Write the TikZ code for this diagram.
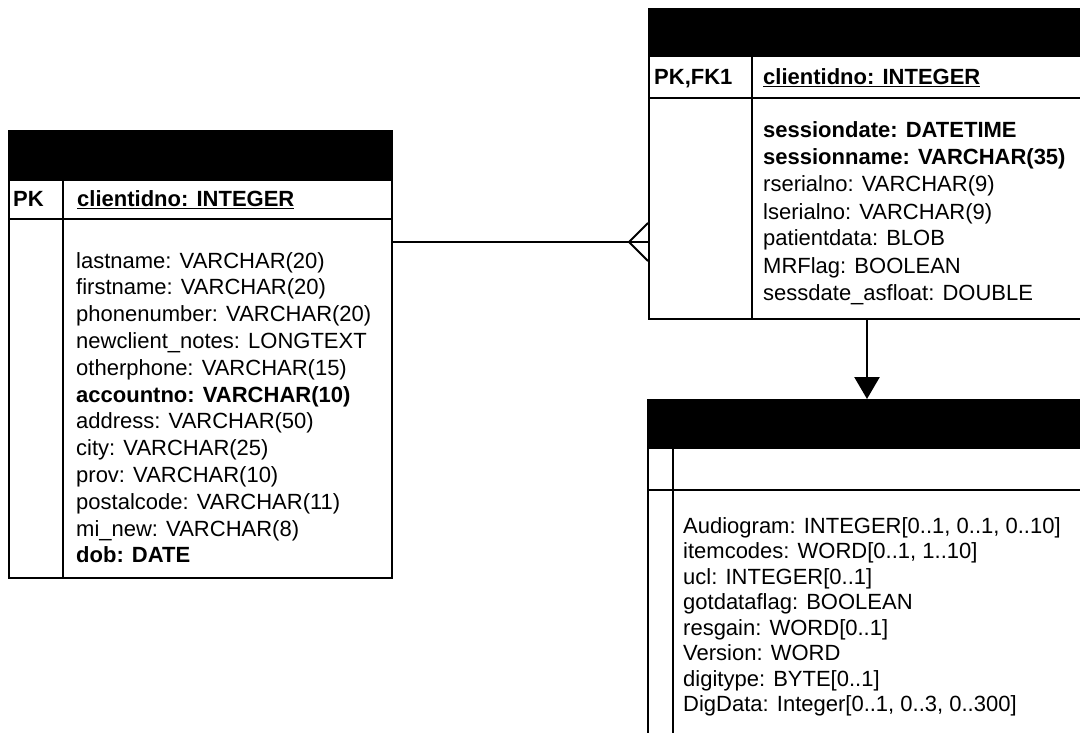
\documentclass[tikz,border=0pt]{standalone}
\usepackage{fontspec}
\setmainfont{Liberation Sans}
\usetikzlibrary{arrows.meta,calc}
\begin{document}
\begin{tikzpicture}[x=1pt,y=-1pt,
  frame/.style={draw=black,line width=2.4pt,fill=white,inner sep=0pt},
  hdr/.style={draw=black,fill=black,line width=2.4pt,inner sep=0pt},
  rule/.style={line width=2.4pt},
  txt/.style={anchor=base west,inner sep=0pt,font=\fontsize{22}{27}\selectfont},
  conn/.style={line width=1.4pt},
  crow/.style={line width=1.8pt},
  arr/.style={line width=2.6pt,-{Triangle[length=22pt,width=25pt]}}]
\useasboundingbox (0,0) rectangle (1080,733);
\clip (0,0) rectangle (1080,733);

% ---------- left table (client) ----------
\node[frame,anchor=north west,minimum width=383pt,minimum height=447pt] (client) at (8,130) {};
\node[hdr,anchor=north west,minimum width=383pt,minimum height=49pt] (clienth) at (8,130) {};
\draw[rule] (8,219) -- (391,219);
\draw[rule] (63,179) -- (63,577);
\node[txt] (clpk) at (13,207) {\textbf{PK}};
\node[txt] (clkey) at (77,207) {\textbf{\underline{clientidno: INTEGER}}};
\foreach \t [count=\i from 0] in {
  {lastname: VARCHAR(20)},
  {firstname: VARCHAR(20)},
  {phonenumber: VARCHAR(20)},
  {newclient\_notes: LONGTEXT},
  {otherphone: VARCHAR(15)},
  {\textbf{accountno: VARCHAR(10)}},
  {address: VARCHAR(50)},
  {city: VARCHAR(25)},
  {prov: VARCHAR(10)},
  {postalcode: VARCHAR(11)},
  {mi\_new: VARCHAR(8)},
  {\textbf{dob: DATE}}}
  \node[txt] (cl\i) at (76,{268+26.8*\i}) {\t};

% ---------- top right table (session) ----------
\node[frame,anchor=north west,minimum width=460pt,minimum height=310pt] (session) at (648,8) {};
\node[hdr,anchor=north west,minimum width=460pt,minimum height=47pt] (sessionh) at (648,8) {};
\draw[rule] (648,98) -- (1110,98);
\draw[rule] (752,55) -- (752,318);
\node[txt] (sepk) at (654,85) {\textbf{PK,FK1}};
\node[txt] (sekey) at (763,85) {\textbf{\underline{clientidno: INTEGER}}};
\foreach \t [count=\i from 0] in {
  {\textbf{sessiondate: DATETIME}},
  {\textbf{sessionname: VARCHAR(35)}},
  {rserialno: VARCHAR(9)},
  {lserialno: VARCHAR(9)},
  {patientdata: BLOB},
  {MRFlag: BOOLEAN},
  {sessdate\_asfloat: DOUBLE}}
  \node[txt] (se\i) at (763,{138+27*\i}) {\t};

% ---------- bottom right table ----------
\node[frame,anchor=north west,minimum width=460pt,minimum height=380pt] (audio) at (647,399) {};
\node[hdr,anchor=north west,minimum width=460pt,minimum height=48pt] (audioh) at (647,399) {};
\draw[rule] (647,490) -- (1110,490);
\draw[rule] (673,447) -- (673,780);
\foreach \t [count=\i from 0] in {
  {Audiogram: INTEGER[0..1, 0..1, 0..10]},
  {itemcodes: WORD[0..1, 1..10]},
  {ucl: INTEGER[0..1]},
  {gotdataflag: BOOLEAN},
  {resgain: WORD[0..1]},
  {Version: WORD},
  {digitype: BYTE[0..1]},
  {DigData: Integer[0..1, 0..3, 0..300]}}
  \node[txt] (au\i) at (683,{533+25.5*\i}) {\t};

% ---------- connectors ----------
\coordinate (cy) at (0,242);
\coordinate (ax) at (867,0);
\draw[conn] (client.east |- cy) -- (session.west |- cy);
\coordinate (apex) at ($(session.west |- cy)+(-19,0)$);
\draw[crow] ($(session.west |- cy)+(0,-19)$) -- (apex) -- ($(session.west |- cy)+(0,19)$);
\draw[arr] (session.south -| ax) -- (audio.north -| ax);
\end{tikzpicture}
\end{document}
